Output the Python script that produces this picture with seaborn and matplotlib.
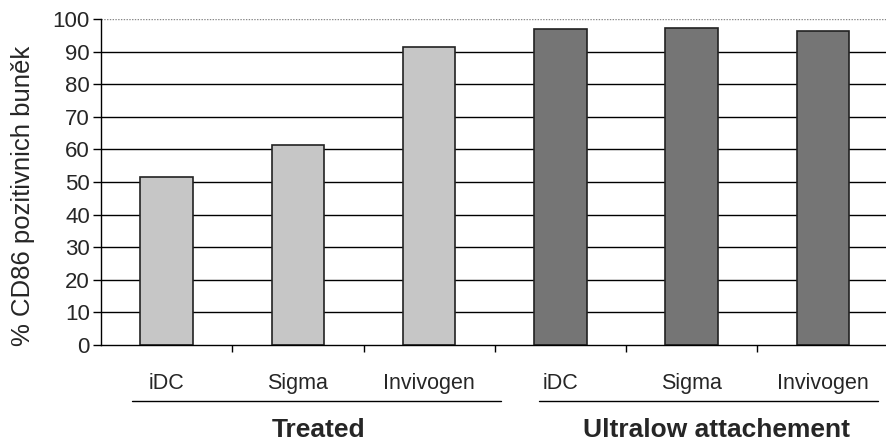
import matplotlib
matplotlib.use("Agg")
import matplotlib.pyplot as plt
import matplotlib.transforms as mtransforms
from matplotlib.lines import Line2D
import seaborn as sns
import pandas as pd

# ---- data ----
groups = ["Treated", "Treated", "Treated",
          "Ultralow attachement", "Ultralow attachement", "Ultralow attachement"]
categories = ["iDC", "Sigma", "Invivogen", "iDC", "Sigma", "Invivogen"]
values = [51.5, 61.2, 91.5, 96.8, 97.3, 96.3]
group_names = ["Treated", "Ultralow attachement"]
group_colors = ["#c6c6c6", "#757575"]
y_ticks = [0, 10, 20, 30, 40, 50, 60, 70, 80, 90, 100]
y_label = "% CD86 pozitivnich buněk"

df = pd.DataFrame({
    "key": [f"{g}|{c}" for g, c in zip(groups, categories)],
    "group": groups,
    "category": categories,
    "value": values,
})

sns.set_style("white")
plt.rcParams["font.family"] = ["Liberation Sans", "DejaVu Sans"]

fig = plt.figure(figsize=(8.86, 4.41), dpi=100)
ax = fig.add_axes([0.114, 0.2177, 0.889, 0.7393])

# gridlines behind bars
for t in y_ticks[1:-1]:
    ax.axhline(t, color="black", lw=1.0, zorder=0)
ax.axhline(100, color="#888888", lw=1.0, ls=(0, (1, 1)), zorder=0)

sns.barplot(data=df, x="key", y="value", hue="group", hue_order=group_names,
            palette=group_colors, dodge=False, width=0.40, edgecolor="#222222",
            linewidth=1.2, legend=False, ax=ax, zorder=2)

n = len(categories)
ax.set_xlim(-0.5, n - 0.5)
ax.set_ylim(0, 100)
ax.set_yticks(y_ticks)
ax.set_yticklabels([str(t) for t in y_ticks], fontsize=16)
ax.tick_params(axis="y", direction="out", length=6, width=1, color="black", pad=2, left=True)

ax.set_xticks(range(n))
ax.set_xticklabels(categories, fontsize=15.5)
ax.tick_params(axis="x", which="major", length=0, pad=20)
ax.set_xticks([i - 0.5 for i in range(1, n)], minor=True)
ax.tick_params(axis="x", which="minor", direction="out", length=5, width=1, color="black", bottom=True)

ax.set_xlabel("")
ax.set_ylabel(y_label, fontsize=18.5)
ax.yaxis.set_label_coords(-0.084, 0.457)

for s in ["top", "right"]:
    ax.spines[s].set_visible(False)
for s in ["left", "bottom"]:
    ax.spines[s].set_color("black")
    ax.spines[s].set_linewidth(1.0)

# group underlines and labels
trans = mtransforms.blended_transform_factory(ax.transData, ax.transAxes)
group_spans = [(-0.265, 2.55), (2.84, 5.42)]
group_label_x = [1.16, 4.19]
for name, (x0, x1), lx in zip(group_names, group_spans, group_label_x):
    ln = Line2D([x0, x1], [-0.172, -0.172], transform=trans, color="black", lw=1.0, clip_on=False)
    ax.add_line(ln)
    ax.text(lx, -0.262, name, transform=trans, ha="center", va="center",
            fontsize=19, fontweight="bold", clip_on=False)

fig.savefig("out.png", dpi=100)
